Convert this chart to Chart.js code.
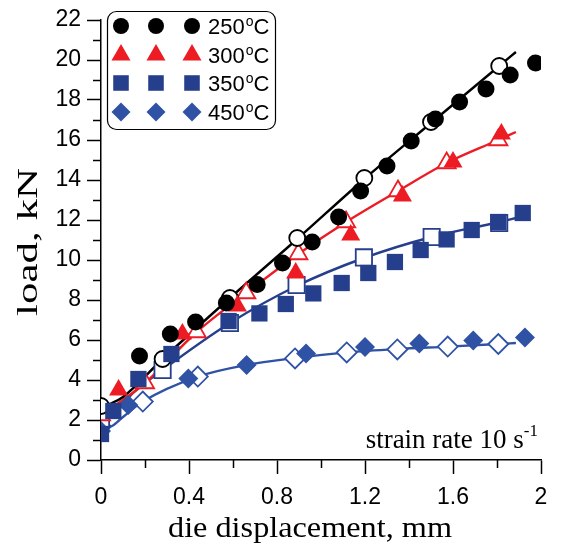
<!DOCTYPE html>
<html>
<head>
<meta charset="utf-8">
<script src="https://cdn.jsdelivr.net/npm/chart.js@4"></script>
<style>
  html, body { margin: 0; padding: 0; background: #fff; }
  #wrap { width: 561px; height: 544px; }
</style>
</head>
<body>
<div id="wrap"><canvas id="chart" width="561" height="544"></canvas></div>
<script>
"use strict";
// measured points (filled) and model points (open) per temperature
var temps = ["250", "300", "350", "450"];

var meas250 = [[0.175,5.2],[0.315,6.3],[0.43,6.9],[0.57,7.85],[0.71,8.78],[0.825,9.85],[0.96,10.9],[1.08,12.15],[1.18,13.45],[1.3,14.7],[1.41,15.95],[1.52,17.05],[1.63,17.9],[1.75,18.55],[1.86,19.25],[1.975,19.85]];
var model250 = [[0,2.7],[0.28,5.05],[0.586,8.1],[0.892,11.1],[1.197,14.1],[1.5,16.9],[1.81,19.7]];
var curve250 = [[0,2.65],[0.05,2.85],[0.1,3.15],[0.28,5.05],[0.586,8.1],[0.892,11.05],[1.197,14.05],[1.5,16.85],[1.81,19.7],[1.886,20.4]];

var meas300 = [[0.08,3.5],[0.37,6.3],[0.62,7.7],[0.885,9.35],[1.135,11.25],[1.37,13.2],[1.6,14.9],[1.82,16.3]];
var model300 = [[0,2.25],[0.2,3.85],[0.435,6.4],[0.66,8.35],[0.897,10.3],[1.114,11.9],[1.35,13.45],[1.571,14.85],[1.806,16.0]];
var curve300 = [[0,2.3],[0.06,2.7],[0.2,3.85],[0.435,6.4],[0.66,8.35],[0.897,10.3],[1.114,11.9],[1.35,13.45],[1.571,14.85],[1.806,16.0],[1.886,16.4]];

var meas350 = [[0,1.3],[0.056,2.45],[0.17,4.05],[0.32,5.3],[0.58,6.95],[0.72,7.33],[0.84,7.8],[0.965,8.33],[1.094,8.85],[1.215,9.35],[1.336,9.9],[1.453,10.5],[1.571,11.03],[1.685,11.5],[1.806,11.9],[1.917,12.35]];
var model350 = [[0,2.05],[0.28,4.5],[0.586,6.85],[0.889,8.75],[1.195,10.13],[1.503,11.15],[1.81,11.85]];
var curve350 = [[0,2.0],[0.06,2.3],[0.146,3.35],[0.28,4.5],[0.586,6.85],[0.889,8.7],[1.195,10.1],[1.503,11.15],[1.81,11.9],[1.886,12.1]];

var meas450 = [[0,1.45],[0.124,2.75],[0.397,4.08],[0.662,4.75],[0.932,5.33],[1.2,5.65],[1.447,5.83],[1.692,5.97],[1.927,6.12]];
var model450 = [[0,1.67],[0.19,2.92],[0.44,4.17],[0.882,5.08],[1.117,5.38],[1.347,5.53],[1.576,5.67],[1.806,5.8]];
var curve450 = [[0,1.6],[0.05,1.7],[0.1,2.15],[0.19,2.92],[0.44,4.17],[0.66,4.75],[0.882,5.1],[1.117,5.38],[1.347,5.55],[1.576,5.67],[1.806,5.8],[1.886,5.85]];

var yTicks = [0,2,4,6,8,10,12,14,16,18,20,22];
var xTicks = [0,0.4,0.8,1.2,1.6,2];
var xTitle = "die displacement, mm";
var yTitle = "load, kN";

var BLACK = "#000000", RED = "#ED1C24", NAVY = "#263F8C", BLUE = "#2F52A5";
var SANS = "'Liberation Sans', Arial, sans-serif";
var SERIF = "'Liberation Serif', 'Times New Roman', serif";

function pts(arr){ return arr.map(function(p){ return {x:p[0], y:p[1]}; }); }

function filled(arr, color, style, r){
    return { data: pts(arr), showLine:false, pointStyle:style, pointRadius:r, pointHoverRadius:r,
             backgroundColor:color, borderColor:color, borderWidth:0 };
}
function open(arr, color, style, r){
    return { data: pts(arr), showLine:false, pointStyle:style, pointRadius:r, pointHoverRadius:r,
             backgroundColor:"#fff", borderColor:color, borderWidth:1.8 };
}
function curve(arr, color){
    return { data: pts(arr), showLine:true, pointRadius:0, borderColor:color, borderWidth:2.4,
             cubicInterpolationMode:"monotone", fill:false };
}

var legendItems = [
    { t:temps[0], style:"circle",   r:8,   color:BLACK },
    { t:temps[1], style:"triangle", r:11,  color:RED },
    { t:temps[2], style:"rect",     r:11,  color:NAVY },
    { t:temps[3], style:"rectRot",  r:9.5, color:BLUE }
];

// text stretched horizontally to a given width (the figure is a bit wide)
function wideText(ctx, txt, cx, base, w){
    var nat = ctx.measureText(txt).width;
    ctx.save();
    ctx.translate(cx, base);
    ctx.scale(w / nat, 1);
    ctx.textAlign = "center";
    ctx.fillText(txt, 0, 0);
    ctx.restore();
}

var extras = {
    id: "extras",
    afterDraw: function(c){
        var ctx = c.ctx;
        var xs = c.scales.x, ys = c.scales.y;
        var x0 = xs.left, y0 = ys.bottom;
        ctx.save();
        ctx.strokeStyle = "#000";
        ctx.lineWidth = 1.5;
        // minor ticks
        for (var v = 1; v < 22; v += 2) {
            var py = Math.round(ys.getPixelForValue(v)) + 0.5;
            ctx.beginPath(); ctx.moveTo(x0 - 8, py); ctx.lineTo(x0, py); ctx.stroke();
        }
        for (var k = 0; k < 5; k++) {
            var px = Math.round(xs.getPixelForValue(0.2 + 0.4 * k)) + 0.5;
            ctx.beginPath(); ctx.moveTo(px, y0); ctx.lineTo(px, y0 + 8); ctx.stroke();
        }

        // axis titles
        ctx.fillStyle = "#000";
        ctx.textBaseline = "alphabetic";
        ctx.font = "30px " + SERIF;
        wideText(ctx, xTitle, 310, 537, 284);
        ctx.save();
        ctx.translate(37, 242);
        ctx.rotate(-Math.PI / 2);
        wideText(ctx, yTitle, 0, 0, 148);
        ctx.restore();

        // legend box
        var bx = 107.5, by = 11.5, bw = 168, bh = 118, rr = 9;
        ctx.beginPath();
        ctx.moveTo(bx + rr, by);
        ctx.arcTo(bx + bw, by, bx + bw, by + bh, rr);
        ctx.arcTo(bx + bw, by + bh, bx, by + bh, rr);
        ctx.arcTo(bx, by + bh, bx, by, rr);
        ctx.arcTo(bx, by, bx + bw, by, rr);
        ctx.closePath();
        ctx.fillStyle = "#fff";
        ctx.fill();
        ctx.lineWidth = 1.2;
        ctx.stroke();

        var rowY = [26, 55, 83, 112];
        var mx = [121, 156, 192];
        legendItems.forEach(function(it, i){
            ctx.fillStyle = it.color;
            ctx.strokeStyle = it.color;
            mx.forEach(function(x){
                Chart.helpers.drawPoint(ctx, {pointStyle: it.style, radius: it.r, borderWidth: 0, rotation: 0}, x, rowY[i]);
            });
            ctx.fillStyle = "#000";
            ctx.textBaseline = "alphabetic";
            ctx.textAlign = "left";
            ctx.font = "22px " + SANS;
            var tx = 208, base = rowY[i] + 8;
            ctx.fillText(it.t, tx, base);
            tx += ctx.measureText(it.t).width + 1;
            ctx.font = "14px " + SANS;
            ctx.fillText("o", tx, base - 8);
            tx += ctx.measureText("o").width;
            ctx.font = "22px " + SANS;
            ctx.fillText("C", tx, base);
        });

        // strain rate note
        ctx.fillStyle = "#000";
        ctx.font = "17px " + SERIF;
        var sup = "-1";
        var wsup = ctx.measureText(sup).width;
        ctx.textAlign = "right";
        ctx.fillText(sup, 538, 436);
        ctx.font = "27px " + SERIF;
        ctx.fillText("strain rate 10 s", 538 - wsup, 448);
        ctx.restore();
    }
};

var ctx = document.getElementById("chart").getContext("2d");
var chart = new Chart(ctx, {
    type: "scatter",
    data: {
        datasets: [
            filled(meas250, BLACK, "circle", 8.5),
            filled(meas300, RED, "triangle", 11),
            filled(meas350, NAVY, "rect", 11.5),
            filled(meas450, BLUE, "rectRot", 10),
            open(model250, BLACK, "circle", 8),
            open(model300, RED, "triangle", 10.5),
            open(model350, NAVY, "rect", 11.5),
            open(model450, BLUE, "rectRot", 10),
            curve(curve250, BLACK),
            curve(curve300, RED),
            curve(curve350, NAVY),
            curve(curve450, BLUE)
        ]
    },
    options: {
        responsive: false,
        animation: false,
        events: [],
        layout: { padding: { left: 0, right: 20, top: 20, bottom: 0 } },
        plugins: { legend: { display: false }, tooltip: { enabled: false } },
        scales: {
            x: {
                type: "linear", min: 0, max: 2,
                afterBuildTicks: function(s){ s.ticks = xTicks.map(function(v){ return {value:v}; }); },
                afterFit: function(s){ s.height = 84; },
                grid: { drawOnChartArea: false, drawTicks: true, tickLength: 14, tickWidth: 1.5, tickColor: "#000" },
                border: { display: true, color: "#000", width: 1.5 },
                ticks: { color: "#000", font: { family: SANS, size: 23 }, padding: 10, maxRotation: 0,
                         callback: function(v){ return String(Math.round(v * 10) / 10); } }
            },
            y: {
                type: "linear", min: 0, max: 22,
                afterBuildTicks: function(s){ s.ticks = yTicks.map(function(v){ return {value:v}; }); },
                afterFit: function(s){ s.width = 101; },
                grid: { drawOnChartArea: false, drawTicks: true, tickLength: 14, tickWidth: 1.5, tickColor: "#000" },
                border: { display: true, color: "#000", width: 1.5 },
                ticks: { color: "#000", font: { family: SANS, size: 23 }, padding: 6 }
            }
        }
    },
    plugins: [extras]
});
</script>
</body>
</html>
